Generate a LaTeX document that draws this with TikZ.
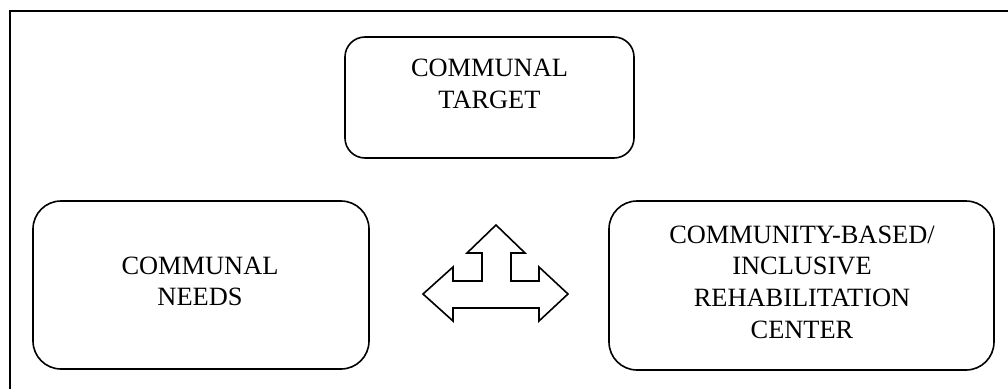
\documentclass[tikz,border=0pt]{standalone}
\usepackage{fontspec}
\setmainfont{Liberation Serif}
\begin{document}
\begin{tikzpicture}[x=0.75pt,y=-0.75pt,
  box/.style={draw, line width=1.2pt, rounded corners=#1, inner sep=0pt, outer sep=0pt},
  box/.default=21pt,
  lbl/.style={align=center, inner sep=0pt, anchor=north,
    font=\fontsize{19.8}{23.7}\selectfont},
  frameline/.style={line width=1.5pt},
  shape3/.style={draw, line width=1.2pt, line join=miter}]
\useasboundingbox (0,0) rectangle (1008,389);

% open frame along the top and left
\coordinate (fbl) at (9.5,389);
\coordinate (ftr) at (1008,10.5);
\draw[frameline] (fbl) |- (ftr);

% boxes
\node[box=15pt, minimum width=216.75pt, minimum height=90.75pt] (target) at (489.5,97.5) {};
\node[box, minimum width=252pt, minimum height=126pt] (needs) at (201,285) {};
\node[box, minimum width=288.75pt, minimum height=126.75pt] (center) at (801.5,285.5) {};

% labels
\node[lbl] (ttarget) at (489.5,59) {COMMUNAL\\TARGET};
\node[lbl] (tneeds) at (200,256.5) {COMMUNAL\\NEEDS};
\node[lbl] (tcenter) at (802,225.5) {COMMUNITY-BASED/\\INCLUSIVE\\REHABILITATION\\CENTER};

% three-way arrow
\draw[shape3] (423,294) -- (453,267) -- (453,281) -- (482,281) -- (482,253)
  -- (467,253) -- (496,225) -- (525,253) -- (511,253) -- (511,281)
  -- (539,281) -- (539,267) -- (568,294) -- (539,321) -- (539,308)
  -- (453,308) -- (453,321) -- cycle;
\end{tikzpicture}
\end{document}
